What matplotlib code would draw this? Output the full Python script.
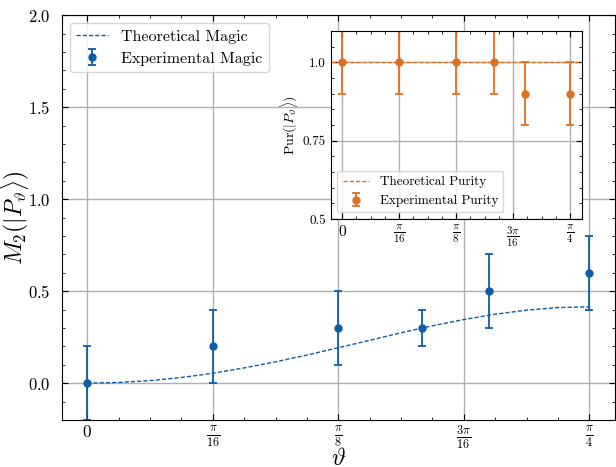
import numpy as np
import matplotlib
matplotlib.use('Agg')
import matplotlib.pyplot as plt
from matplotlib.ticker import MultipleLocator

plt.rcParams['font.family'] = 'serif'
plt.rcParams['font.serif'] = ['cmr10']
plt.rcParams['mathtext.fontset'] = 'cm'
plt.rcParams['axes.formatter.use_mathtext'] = True

# theoretical magic curve
theta_th = np.linspace(0, np.pi / 4, 17)
magic_th = [0.0, 0.004, 0.014, 0.031, 0.054, 0.083, 0.116, 0.153, 0.193,
            0.233, 0.274, 0.312, 0.346, 0.375, 0.397, 0.411, 0.415]

# experimental points
theta_exp = [0, np.pi / 16, np.pi / 8, np.pi / 6, np.pi / 5, np.pi / 4]
magic_exp = [0.0, 0.2, 0.3, 0.3, 0.5, 0.6]
magic_err = [0.2, 0.2, 0.2, 0.1, 0.2, 0.2]
purity_exp = [1.0, 1.0, 1.0, 1.0, 0.9, 0.9]
purity_err = [0.1, 0.1, 0.1, 0.1, 0.1, 0.1]
purity_th = [1.0, 1.0]

xticks = [0, np.pi / 16, np.pi / 8, 3 * np.pi / 16, np.pi / 4]
xlabels = [r'$0$', r'$\frac{\pi}{16}$', r'$\frac{\pi}{8}$', r'$\frac{3\pi}{16}$', r'$\frac{\pi}{4}$']

blue = '#0C5DA5'
orange = '#E0701E'

fig = plt.figure(figsize=(6.16, 4.67), dpi=100)
ax = fig.add_axes([0.1007, 0.1006, 0.897, 0.867])

ax.plot(theta_th, magic_th, '--', color=blue, lw=1, dashes=(3, 1.5), label='Theoretical Magic')
ax.errorbar(theta_exp, magic_exp, yerr=magic_err, fmt='o', color=blue, ms=5,
            capsize=3, elinewidth=1.3, capthick=1.3, label='Experimental Magic')
ax.set_ylim(-0.2, 2.0)
ax.set_xticks(xticks)
ax.set_xticklabels(xlabels, fontsize=12.5)
ax.xaxis.set_minor_locator(MultipleLocator(np.pi / 64))
ax.yaxis.set_major_locator(MultipleLocator(0.5))
ax.yaxis.set_minor_locator(MultipleLocator(0.1))
ax.tick_params(axis='y', labelsize=12, pad=8)
ax.tick_params(axis='x', pad=3)
ax.tick_params(which='both', direction='in', top=True, right=True)
ax.tick_params(which='major', length=4)
ax.tick_params(which='minor', length=2)
ax.grid(True, color='#b0b0b0', lw=1)
ax.set_xlabel(r'$\vartheta$', fontsize=17)
ax.set_ylabel(r'$M_2(|P_\vartheta\rangle)$', fontsize=17)
ax.xaxis.set_label_coords(0.5, -0.068)
ax.yaxis.set_label_coords(-0.056, 0.5)
ax.legend(loc='upper left', fontsize=11.5)

# inset with purity
ins = fig.add_axes([0.537, 0.531, 0.407, 0.403])
ins.plot([-0.04, 0.825], purity_th, '--', color=orange, lw=1, dashes=(3, 1.5), label='Theoretical Purity')
ins.errorbar(theta_exp, purity_exp, yerr=purity_err, fmt='o', color=orange, ms=5,
             capsize=3, elinewidth=1.3, capthick=1.3, label='Experimental Purity')
ins.set_xlim(ax.get_xlim())
ins.set_ylim(0.5, 1.1)
ins.set_xticks(xticks)
ins.set_xticklabels(xlabels, fontsize=11)
ins.set_yticks([0.5, 0.75, 1.0])
ins.set_yticklabels(['0.5', '0.75', '1.0'])
ins.xaxis.set_minor_locator(MultipleLocator(np.pi / 64))
ins.yaxis.set_minor_locator(MultipleLocator(0.05))
ins.tick_params(axis='y', labelsize=9.5)
ins.tick_params(which='both', direction='in', top=True, right=True)
ins.tick_params(which='major', length=4)
ins.tick_params(which='minor', length=2)
ins.grid(True, color='#b0b0b0', lw=1)
ins.set_ylabel(r'$\mathrm{Pur}(|P_\vartheta\rangle)$', fontsize=10, labelpad=2)
ins.legend(loc='lower left', fontsize=9.5)

fig.savefig('out.png', dpi=100)
